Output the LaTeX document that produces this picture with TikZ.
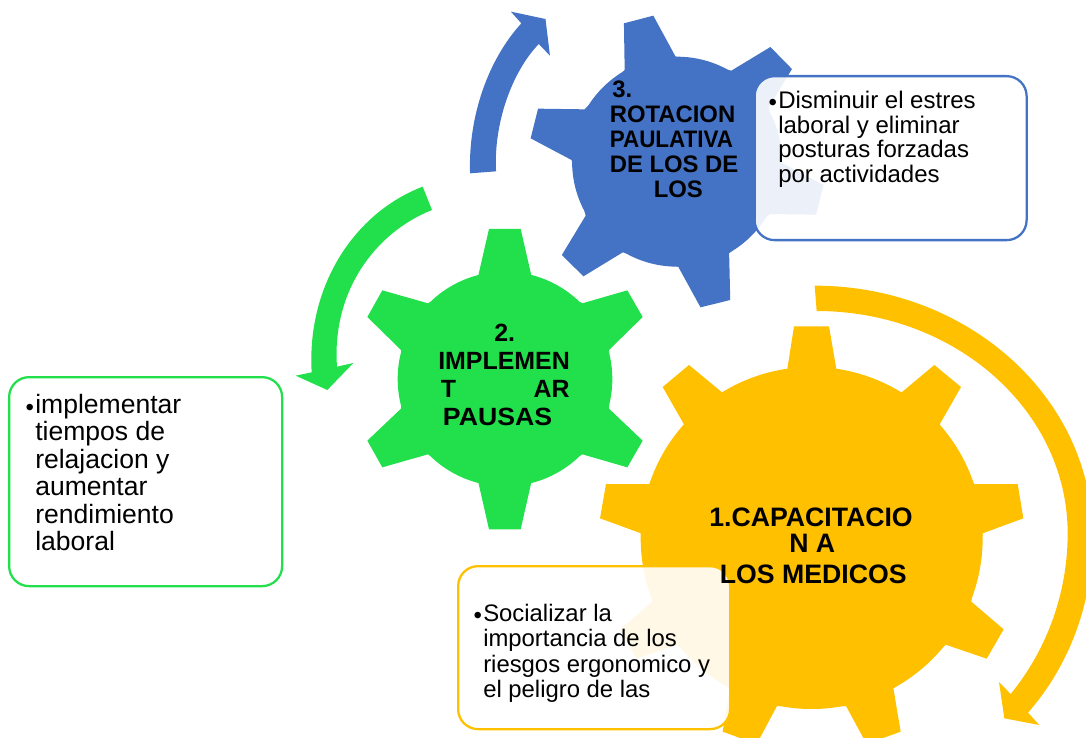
\documentclass[tikz,border=0pt]{standalone}
\usepackage{fontspec}
\setmainfont{Liberation Sans}
\definecolor{gblue}{HTML}{4472C4}
\definecolor{ggreen}{HTML}{21E04B}
\definecolor{gyellow}{HTML}{FFC000}
\newcommand{\leadstrut}{\rule{0pt}{16pt}}
\newcommand{\bul}{\llap{\raisebox{-1.5pt}{\fontsize{18}{18}\selectfont •}\hspace{1pt}}}
\tikzset{
  infobox/.style={draw=#1,line width=1.7pt,fill=white,fill opacity=0.9,rounded corners=15pt,inner sep=0pt,anchor=north west},
  gearlabel/.style={anchor=north west,inner sep=0pt,align=left,text=black},
  boxtext/.style={anchor=north west,inner sep=0pt,align=left,text=black},
  bluescope/.style={shift={(460,0)},x=0.2788pt,y=-0.25pt},
  greenscope/.style={shift={(290,170)},x=0.25pt,y=-0.25pt},
  yellowscope/.style={shift={(590,280)},x=0.25pt,y=-0.25pt}
}
\begin{document}
\begin{tikzpicture}[x=0.75pt,y=-0.75pt]
\useasboundingbox (0,0) rectangle (1086,738);
\clip (0,0) rectangle (1086,738);
% blue gear and arrow
\begin{scope}[bluescope]
\fill[gblue] (584,485) circle[radius=78.75pt];
\fill[gblue] (443,210)--(441,70)--(520,47)--(580,170)--(730,212)--(835,141)--(893,207)--(830,323)--(868,490)--(978,555)--(958,644)--(833,642)--(724,760)--(727,900)--(647,922)--(587,800)--(438,757)--(332,829)--(274,765)--(338,647)--(300,480)--(190,415)--(210,326)--(335,328)--cycle;
\fill[gblue] (27,520) .. controls (22,350) and (75,180) .. (165,70) -- (137,35) -- (230,57) -- (242,167) -- (212,132) .. controls (140,215) and (90,370) .. (97,514) -- cycle;
\end{scope}
% green gear and arrow
\begin{scope}[greenscope]
\fill[ggreen] (645,627) circle[radius=80.5pt];
\fill[ggreen] (565,316)--(597,177)--(692,177)--(724,316)--(877,400)--(1012,361)--(1058,441)--(957,540)--(957,716)--(1058,812)--(1012,892)--(877,853)--(724,937)--(692,1078)--(597,1078)--(565,937)--(414,853)--(277,892)--(232,812)--(333,716)--(333,540)--(232,441)--(277,361)--(414,400)--cycle;
\fill[ggreen] (398,50) .. controls (190,130) and (50,350) .. (65,607) -- (17,617) -- (112,660) -- (190,579) -- (141,590) .. controls (125,370) and (250,190) .. (426,120) -- cycle;
\end{scope}
% yellow gear and arrow
\begin{scope}[yellowscope]
\fill[gyellow] (665,774) circle[radius=128.25pt];
\fill[gyellow] (592,267)--(612,139)--(717,139)--(739,267)--(935,337)--(1033,255)--(1113,321)--(1049,433)--(1152,612)--(1283,612)--(1300,715)--(1178,760)--(1144,965)--(1241,1048)--(1190,1136)--(1067,1094)--(910,1224)--(932,1355)--(830,1392)--(768,1278)--(561,1278)--(500,1392)--(398,1355)--(420,1224)--(262,1094)--(140,1136)--(90,1048)--(187,965)--(153,760)--(30,715)--(48,612)--(180,612)--(282,433)--(218,321)--(297,255)--(396,337)--cycle;
\fill[gyellow] (674,17) .. controls (1135,17) and (1508,354) .. (1508,770) .. controls (1508,975) and (1435,1160) .. (1314,1298) -- (1348,1335) -- (1243,1315) -- (1227,1206) -- (1262,1242) .. controls (1370,1110) and (1433,940) .. (1433,760) .. controls (1433,392) and (1096,93) .. (680,93) -- cycle;
\end{scope}
% text boxes
\node[infobox=gblue,minimum width=204pt,minimum height=123pt] (boxblue) at (753.5,75) {};
\node[infobox=ggreen,minimum width=204.75pt,minimum height=156.75pt] (boxgreen) at (8,376) {};
\node[infobox=gyellow,minimum width=204pt,minimum height=122.25pt] (boxyellow) at (457,565) {};
% box texts (y = first baseline - 21.33)
\node[boxtext,font=\fontsize{18}{18.45}\selectfont] (textblue) at (778,87.17) {\leadstrut\bul Disminuir el estres\\laboral y eliminar\\posturas forzadas\\por actividades};
\node[boxtext,font=\fontsize{19.9}{20.65}\selectfont] (textgreen) at (35,391.67) {\leadstrut\bul implementar\\tiempos de\\relajacion y\\aumentar\\rendimiento\\laboral};
\node[boxtext,font=\fontsize{17.9}{19.1}\selectfont] (textyellow) at (483,599.67) {\leadstrut\bul Socializar la\\importancia de los\\riesgos ergonomico y\\el peligro de las};
% gear labels
\node[gearlabel,font=\bfseries\fontsize{17.9}{18.7}\selectfont] (label3) at (609.5,76.17) {\leadstrut\hspace*{2pt}3.\\ROTACION\\\scalebox{0.94}[1]{PAULATIVA}\\DE LOS DE\\\hspace*{33pt}LOS};
\node[gearlabel,font=\bfseries\fontsize{18.7}{21}\selectfont] (label2) at (438,319.67) {\leadstrut\hspace*{42pt}2.\\IMPLEMEN\\\hspace*{2pt}T\hspace*{58pt}AR\\\hspace*{3.5pt}\scalebox{1.07}[1]{PAUSAS}};
\node[gearlabel,font=\bfseries\fontsize{20}{19}\selectfont] (label1) at (709,505.37) {\leadstrut 1.CAPACITACIO\\\hspace*{60pt}N A\\[4.5pt]\hspace*{8pt}LOS MEDICOS};
\end{tikzpicture}
\end{document}
